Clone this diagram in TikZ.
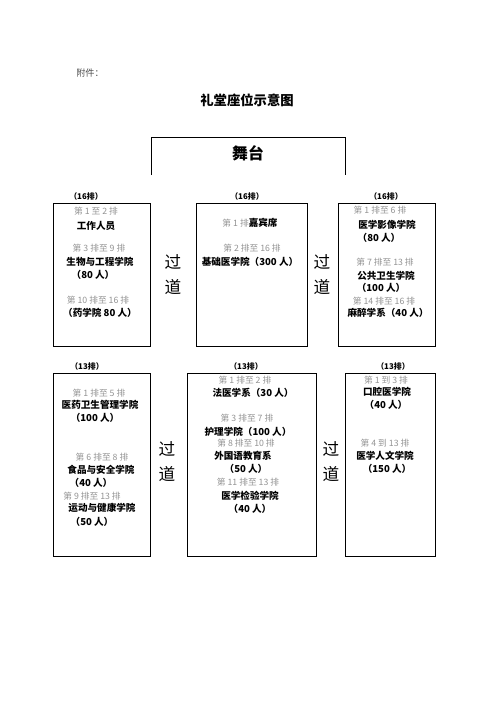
\documentclass[tikz,border=0pt]{standalone}
\usepackage{fontspec}
\setmainfont{Noto Sans CJK SC}
\usepackage{tikz}
\usetikzlibrary{fit}
\definecolor{rowgray}{HTML}{939393}
\definecolor{notegray}{HTML}{4D4D4D}

\begin{document}
\begin{tikzpicture}[x=1.2pt,y=-1.2pt,
  blk/.style={draw,line width=.9pt,inner sep=0pt},
  gr/.style={text=rowgray,font=\fontsize{10.5}{12}\selectfont,inner sep=0pt},
  bd/.style={font=\fontsize{11.5}{13}\selectfont\bfseries,inner sep=0pt},
  lab/.style={font=\fontsize{9.5}{11}\selectfont\bfseries,inner sep=0pt},
  aisle/.style={font=\fontsize{20}{24}\selectfont,inner sep=0pt}
]
\useasboundingbox (0,0) rectangle (496,702);

% heading
\node[font=\fontsize{11}{13}\selectfont,text=notegray,inner sep=0pt] (note) at (90,73) {附件：};
\node[font=\fontsize{16}{18}\selectfont\bfseries,inner sep=0pt] (title) at (247,100) {礼堂座位示意图};

% stage, open at the bottom
\node[inner sep=0pt,fit={(152,138)(345,175)}] (stage) {};
\draw[line width=.9pt] (stage.south west) |- (stage.north east) -- (stage.south east);
\node[font=\fontsize{19}{22}\selectfont\bfseries,inner sep=0pt] (stagetxt) at (248,153) {舞台};

% seat blocks
\node[blk,fit={(53,203)(150,346)}] (r1l) {};
\node[blk,fit={(196,203)(307,346)}] (r1m) {};
\node[blk,fit={(338,203)(435,346)}] (r1r) {};
\node[blk,fit={(53,373)(150,556)}] (r2l) {};
\node[blk,fit={(187,373)(316,556)}] (r2m) {};
\node[blk,fit={(345,373)(435,556)}] (r2r) {};

% row counts
\node[lab] (n1l) at (86,196) {（16排）};
\node[lab] (n1m) at (247,196) {（16排）};
\node[lab] (n1r) at (386,196) {（16排）};
\node[lab] (n2l) at (87,366) {（13排）};
\node[lab] (n2m) at (246,366) {（13排）};
\node[lab] (n2r) at (393,366) {（13排）};

% aisles
\foreach \x/\y [count=\i] in {173/264,322/264,167/451,331/451}
  \node[aisle,align=center] (aisle\i) at (\x,\y+11) {过\\[6pt]道};

% row 1
\foreach \x/\y/\s/\t [count=\i] in {96/211/gr/{第 1 至 2 排},96/226/bd/{工作人员},
  99/248/gr/{第 3 排至 9 排},100/262/bd/{生物与工程学院},93/275/bd/{（80 人）},
  98/300/gr/{第 10 排至 16 排},100/313/bd/{（药学院 80 人）}}
  \node[style=\s] (r1l-\i) at (\x,\y) {\t};
\node[bd] (r1m-1) at (250,223) {{\color{rowgray}\fontsize{10.5}{12}\mdseries\selectfont 第 1 排}嘉宾席};
\foreach \x/\y/\s/\t [count=\i from 2] in {252/248/gr/{第 2 排至 16 排},250/262/bd/{基础医学院（300 人）}}
  \node[style=\s] (r1m-\i) at (\x,\y) {\t};
\foreach \x/\y/\s/\t [count=\i] in {380/210/gr/{第 1 排至 6 排},387/225/bd/{医学影像学院},
  379/238/bd/{（80 人）},385/262/gr/{第 7 排至 13 排},386/276/bd/{公共卫生学院},
  381/288/bd/{（100 人）},384/301/gr/{第 14 排至 16 排},388/313/bd/{麻醉学系（40 人）}}
  \node[style=\s] (r1r-\i) at (\x,\y) {\t};

% row 2
\foreach \x/\y/\s/\t [count=\i] in {99/393/gr/{第 1 排至 5 排},100/405/bd/{医药卫生管理学院},
  95/418/bd/{（100 人）},102/457/gr/{第 6 排至 8 排},101/470/bd/{食品与安全学院},
  91/483/bd/{（40 人）},92/496/gr/{第 9 排至 13 排},102/508/bd/{运动与健康学院},
  92/522/bd/{（50 人）}}
  \node[style=\s] (r2l-\i) at (\x,\y) {\t};
\foreach \x/\y/\s/\t [count=\i] in {245/380/gr/{第 1 排至 2 排},253/393/bd/{法医学系（30 人）},
  247/418/gr/{第 3 排至 7 排},248/432/bd/{护理学院（100 人）},246/443/gr/{第 8 排至 10 排},
  243/456/bd/{外国语教育系},246/469/bd/{（50 人）},248/482/gr/{第 11 排至 13 排},
  250/496/bd/{医学检验学院},250/509/bd/{（40 人）}}
  \node[style=\s] (r2m-\i) at (\x,\y) {\t};
\foreach \x/\y/\s/\t [count=\i] in {386/380/gr/{第 1 到 3 排},387/392/bd/{口腔医学院},
  386/405/bd/{（40 人）},385/443/gr/{第 4 到 13 排},385/456/bd/{医学人文学院},
  387/469/bd/{（150 人）}}
  \node[style=\s] (r2r-\i) at (\x,\y) {\t};
\end{tikzpicture}
\end{document}
